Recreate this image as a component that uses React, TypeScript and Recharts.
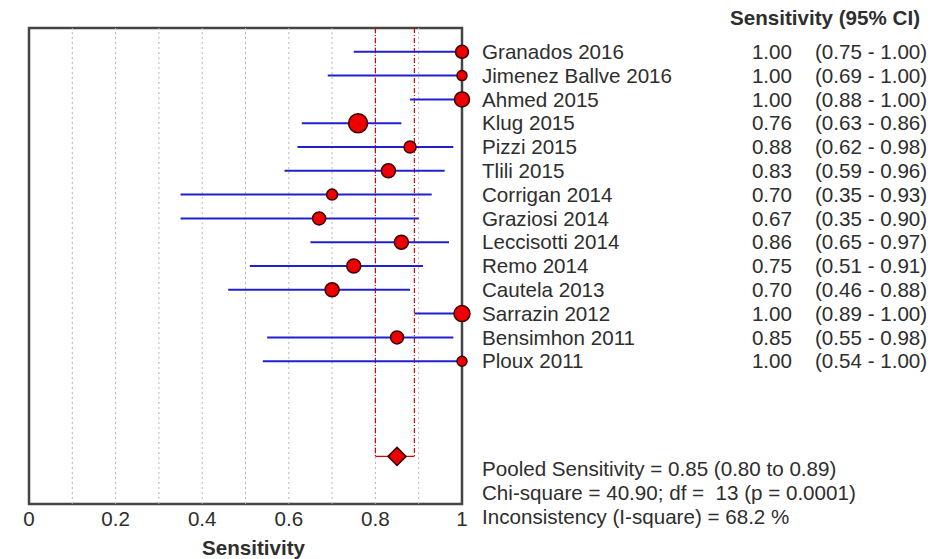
import React from 'react';
import { ComposedChart, Scatter, XAxis, YAxis, ZAxis, ErrorBar, ReferenceLine, ReferenceArea } from 'recharts';

const studies = [
  'Granados 2016', 'Jimenez Ballve 2016', 'Ahmed 2015', 'Klug 2015', 'Pizzi 2015', 'Tlili 2015',
  'Corrigan 2014', 'Graziosi 2014', 'Leccisotti 2014', 'Remo 2014', 'Cautela 2013', 'Sarrazin 2012',
  'Bensimhon 2011', 'Ploux 2011',
];
const sensitivity = [1.0, 1.0, 1.0, 0.76, 0.88, 0.83, 0.70, 0.67, 0.86, 0.75, 0.70, 1.0, 0.85, 1.0];
const ciLow = [0.75, 0.69, 0.88, 0.63, 0.62, 0.59, 0.35, 0.35, 0.65, 0.51, 0.46, 0.89, 0.55, 0.54];
const ciHigh = [1.0, 1.0, 1.0, 0.86, 0.98, 0.96, 0.93, 0.90, 0.97, 0.91, 0.88, 1.0, 0.98, 1.0];
// relative study weights (marker area)
const weights = [42, 25, 56, 90, 36, 49, 30, 42, 49, 49, 49, 64, 42, 25];

const pooled = 0.85;
const pooledLow = 0.80;
const pooledHigh = 0.89;
const pooledRow = 17;

const xTicks = [0, 0.2, 0.4, 0.6, 0.8, 1];
const gridLines = [0.1, 0.2, 0.3, 0.4, 0.5, 0.6, 0.7, 0.8, 0.9];
const statsLines = [
  'Pooled Sensitivity = 0.85 (0.80 to 0.89)',
  'Chi-square = 40.90; df =  13 (p = 0.0001)',
  'Inconsistency (I-square) = 68.2 %',
];

const rows = studies.map((name, i) => ({
  name,
  x: sensitivity[i],
  y: i,
  w: weights[i],
  err: [sensitivity[i] - ciLow[i], ciHigh[i] - sensitivity[i]],
}));
const pooledData = [{ x: pooled, y: pooledRow, w: 0 }];
const rowTicks = studies.map((_, i) => i);

const TEXT = '#2e2e2e';
const FS = 20.6;

const StudyTick = (props: any) => {
  const { x, y, payload } = props;
  const i = payload.value;
  return (
    <g fontSize={FS} fill={TEXT}>
      <text x={x + 20} y={y} dy="0.35em" textAnchor="start">{studies[i]}</text>
      <text x={x + 330} y={y} dy="0.35em" textAnchor="end">{sensitivity[i].toFixed(2)}</text>
      <text x={x + 353} y={y} dy="0.35em" textAnchor="start">
        {`(${ciLow[i].toFixed(2)} - ${ciHigh[i].toFixed(2)})`}
      </text>
    </g>
  );
};

const Diamond = (props: any) => {
  const { cx, cy } = props;
  const s = 9;
  return (
    <polygon
      points={`${cx - s},${cy} ${cx},${cy - s} ${cx + s},${cy} ${cx},${cy + s}`}
      fill="#ee0000"
      stroke="#3a0000"
      strokeWidth={1.5}
    />
  );
};

export default function App() {
  return (
    <div
      style={{
        position: 'absolute',
        left: 0,
        top: 0,
        width: 948,
        height: 559,
        background: '#fff',
        fontFamily: '"Liberation Sans", Arial, sans-serif',
        color: TEXT,
      }}
    >
      <ComposedChart width={948} height={559} margin={{ top: 28, right: 0, bottom: 0, left: 29 }}>
        <XAxis
          type="number"
          dataKey="x"
          domain={[0, 1]}
          ticks={xTicks}
          tickFormatter={(v) => String(v)}
          axisLine={false}
          tickLine={false}
          tickSize={6}
          tickMargin={1}
          height={55}
          tick={{ fontSize: FS, fill: TEXT }}
          label={{ value: 'Sensitivity', position: 'insideBottom', offset: 4, dx: 8, fontSize: FS, fontWeight: 'bold', fill: TEXT }}
        />
        <YAxis
          type="number"
          dataKey="y"
          orientation="right"
          domain={[-1, 19]}
          reversed
          ticks={rowTicks}
          interval={0}
          axisLine={false}
          tickLine={false}
          tickSize={0}
          tickMargin={0}
          width={486}
          tick={<StudyTick />}
        />
        <ZAxis type="number" dataKey="w" domain={[0, 90]} range={[0, 283]} />

        {gridLines.map((g) => (
          <ReferenceLine key={g} x={g} stroke="#b5b5b5" strokeDasharray="2 3" strokeWidth={1} />
        ))}

        <ReferenceLine
          segment={[{ x: pooledLow, y: -1 }, { x: pooledLow, y: pooledRow }]}
          stroke="#e00000"
          strokeDasharray="5 2 1 2"
          strokeWidth={1.2}
        />
        <ReferenceLine
          segment={[{ x: pooledHigh, y: -1 }, { x: pooledHigh, y: pooledRow }]}
          stroke="#e00000"
          strokeDasharray="5 2 1 2"
          strokeWidth={1.2}
        />
        <ReferenceLine
          segment={[{ x: pooledLow, y: pooledRow }, { x: pooledHigh, y: pooledRow }]}
          stroke="#e00000"
          strokeWidth={1.2}
        />

        <Scatter data={rows} fill="#ee0000" stroke="#3a0000" strokeWidth={1.5} isAnimationActive={false}>
          <ErrorBar dataKey="err" direction="x" width={0} stroke="#2020cc" strokeWidth={2} />
        </Scatter>
        <Scatter data={pooledData} shape={<Diamond />} isAnimationActive={false} />

        <ReferenceArea x1={0} x2={1} y1={-1} y2={19} fill="none" stroke="#444" strokeWidth={2.5} />
      </ComposedChart>

      <div
        style={{
          position: 'absolute',
          right: 28,
          top: 6,
          fontSize: FS,
          lineHeight: '24px',
          fontWeight: 'bold',
        }}
      >
        Sensitivity (95% CI)
      </div>
      <div style={{ position: 'absolute', left: 482, top: 457, fontSize: FS, lineHeight: '24px', whiteSpace: 'pre' }}>
        {statsLines.map((s) => (
          <div key={s}>{s}</div>
        ))}
      </div>
    </div>
  );
}
